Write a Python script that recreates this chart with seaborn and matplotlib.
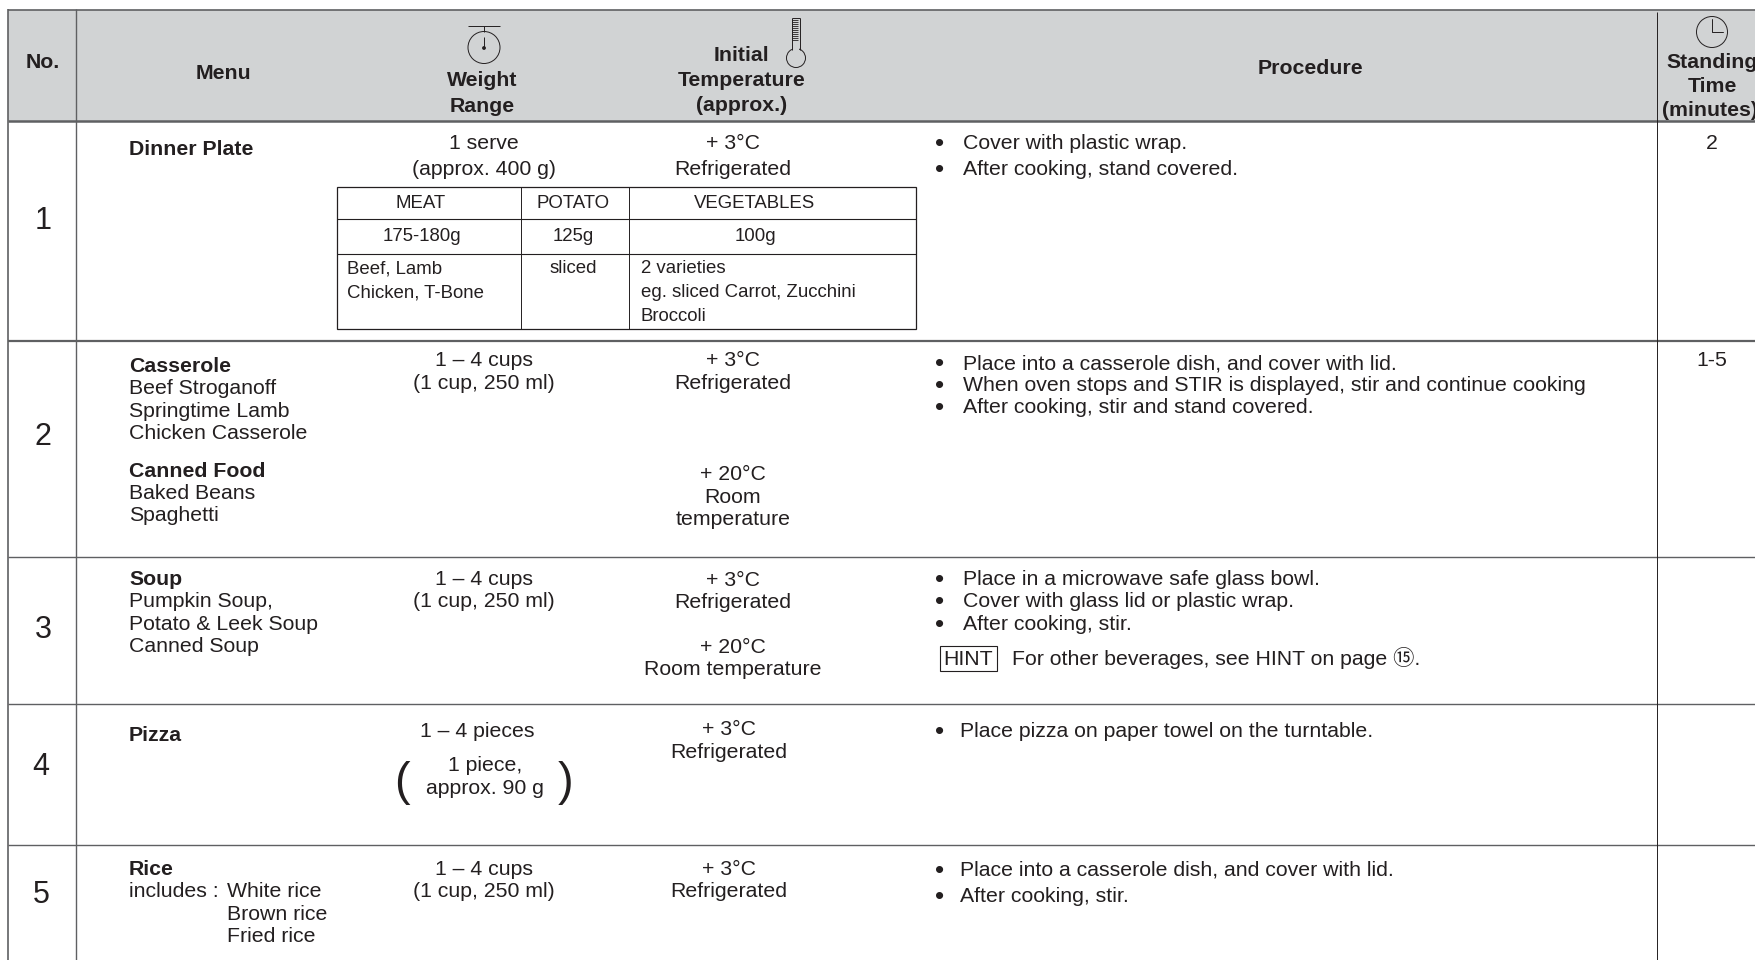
# Microwave cooking table, page from a manual: header band, five rows, nested Dinner Plate table.

import numpy as np
import matplotlib
matplotlib.use('Agg')
import matplotlib.pyplot as plt
from matplotlib.patches import Circle, Rectangle
import seaborn as sns

# ==================== DATA ====================
row_numbers = ['1', '2', '3', '4', '5']
standing_times = ['2', '1-5']
header_labels = ['No.', 'Menu', 'Weight', 'Range', 'Initial', 'Temperature', '(approx.)',
                 'Procedure', 'Standing', 'Time', '(minutes)']

menu_bold = ['Dinner Plate', 'Casserole', 'Canned Food', 'Soup', 'Pizza', 'Rice']
menu_plain = ['Beef Stroganoff', 'Springtime Lamb', 'Chicken Casserole', 'Baked Beans', 'Spaghetti',
              'Pumpkin Soup,', 'Potato & Leek Soup', 'Canned Soup', 'includes :',
              'White rice', 'Brown rice', 'Fried rice']

weight_lines = ['1 serve', '(approx. 400 g)', '1 – 4 cups', '(1 cup, 250 ml)', '1 – 4 cups',
                '(1 cup, 250 ml)', '1 – 4 pieces', '1 piece,', 'approx. 90 g', '1 – 4 cups',
                '(1 cup, 250 ml)']
temp_lines = ['+ 3°C', 'Refrigerated', '+ 3°C', 'Refrigerated', '+ 20°C', 'Room', 'temperature',
              '+ 3°C', 'Refrigerated', '+ 20°C', 'Room temperature', '+ 3°C', 'Refrigerated',
              '+ 3°C', 'Refrigerated']
procedure_lines = ['Cover with plastic wrap.', 'After cooking, stand covered.',
                   'Place into a casserole dish, and cover with lid.',
                   'When oven stops and STIR is displayed, stir and continue cooking',
                   'After cooking, stir and stand covered.',
                   'Place in a microwave safe glass bowl.', 'Cover with glass lid or plastic wrap.',
                   'After cooking, stir.', 'Place pizza on paper towel on the turntable.',
                   'Place into a casserole dish, and cover with lid.', 'After cooking, stir.']
hint_label = 'HINT'
hint_text = 'For other beverages, see HINT on page ⑮.'

inner_header = ['MEAT', 'POTATO', 'VEGETABLES']
inner_weights = ['175-180g', '125g', '100g']
inner_meat = ['Beef, Lamb', 'Chicken, T-Bone']
inner_potato = ['sliced']
inner_veg = ['2 varieties', 'eg. sliced Carrot, Zucchini', 'Broccoli']

# ==================== LAYOUT (pixels of the page) ====================
W, H = 1755, 960
INK = '#231f20'
RULE = '#5f6062'
BAND = '#d1d3d4'
FS = 15.35
FS_INNER = 13.45

number_y = [218, 434, 627, 764, 892]
number_x = [43, 43, 43, 41, 41]
menu_bold_y = [148, 365, 470, 578, 734, 868]
menu_plain_xy = [(129, 387), (129, 410), (129, 432), (129, 492), (129, 514), (129, 600), (129, 623),
                 (129, 645), (129, 890), (227, 890), (227, 913), (227, 935)]
weight_xy = [(484, 142), (484, 168), (484, 359), (484, 382), (484, 578), (484, 600), (477, 730),
             (485, 764), (485, 787), (484, 868), (484, 890)]
temp_xy = [(733, 142), (733, 168), (733, 359), (733, 382), (733, 473), (733, 496), (733, 518),
           (733, 579), (733, 601), (733, 646), (733, 668), (729, 728), (729, 751), (729, 868),
           (729, 890)]
procedure_xy = [(963, 142), (963, 168), (963, 362), (963, 384), (963, 406), (963, 578), (963, 600),
                (963, 623), (960, 730), (960, 869), (960, 895)]
header_xy = [(43, 61), (223, 72), (482, 79), (482, 105), (741, 54), (742, 79), (742, 104),
             (1310, 67), (1712, 61), (1712, 85), (1710, 109)]

# ==================== FIGURE ====================
sns.set_theme(style='white')
plt.rcParams['font.family'] = ['Liberation Sans', 'Noto Sans CJK SC', 'DejaVu Sans']

fig = plt.figure(figsize=(W / 100, H / 100), dpi=100, facecolor='white')

# Header band as a one-cell heatmap
band_ax = fig.add_axes([8 / W, 1 - 121 / H, (W - 8) / W, 111 / H])
sns.heatmap(np.ones((1, 1)), cmap=[BAND], cbar=False, ax=band_ax, xticklabels=False, yticklabels=False)

ax = fig.add_axes([0, 0, 1, 1])
ax.patch.set_alpha(0)
ax.set_xlim(0, W)
ax.set_ylim(H, 0)
ax.axis('off')
sns.despine(ax=ax, left=True, bottom=True)


def put(x, y, s, ha='left', weight='normal', size=FS, off=7):
    ax.text(x, y + off, s, ha=ha, va='baseline', fontsize=size, fontweight=weight, color=INK)


# ==================== RULES ====================
ax.hlines(10, 8, W, color=RULE, lw=1.2)
ax.hlines(121, 8, W, color=RULE, lw=1.8)
ax.hlines(341, 8, W, color=RULE, lw=1.6)
for y in [557, 704, 845]:
    ax.hlines(y, 8, W, color=RULE, lw=1.0)
ax.vlines(8, 9, H, color=RULE, lw=1.2)
ax.vlines(76.5, 9, H, color=RULE, lw=1.0)
ax.vlines(1657, 12, H, color=INK, lw=0.7)

# ==================== HEADER ====================
for (x, y), s in zip(header_xy, header_labels):
    put(x, y, s, ha='center', weight='bold')

# Scale icon
ax.hlines(26, 468, 500, color=INK, lw=0.7)
ax.vlines(484, 26, 32, color=INK, lw=0.7)
ax.add_patch(Circle((484, 47.5), 16, fill=False, ec=INK, lw=0.7))
ax.vlines(484, 37, 48, color=INK, lw=0.7)
ax.add_patch(Circle((484, 48), 1.2, color=INK))

# Thermometer icon
ax.vlines([792, 800], 18, 50, color=INK, lw=0.7)
ax.hlines(18, 792, 800, color=INK, lw=0.7)
ax.hlines(np.arange(20, 42, 2), 792, 798, color=INK, lw=0.6)
ax.add_patch(Circle((796, 58), 9.5, fill=False, ec=INK, lw=0.7))
ax.add_patch(Rectangle((792.6, 46), 6.8, 5, fc=BAND, ec='none', zorder=3))

# Clock icon
ax.add_patch(Circle((1712, 32), 15.5, fill=False, ec=INK, lw=0.7))
ax.plot([1712, 1712, 1723], [19, 32, 32], color=INK, lw=0.7)

# ==================== BODY ====================
for x, y, s in zip(number_x, number_y, row_numbers):
    put(x, y, s, ha='center', size=22, off=11)

for y, s in zip(menu_bold_y, menu_bold):
    put(129, y, s, weight='bold')
for (x, y), s in zip(menu_plain_xy, menu_plain):
    put(x, y, s)
for (x, y), s in zip(weight_xy, weight_lines):
    put(x, y, s, ha='center')
for (x, y), s in zip(temp_xy, temp_lines):
    put(x, y, s, ha='center')
for (x, y), s in zip(procedure_xy, procedure_lines):
    put(x, y, s)
    put(940, y, '•', ha='center', size=19, off=9)

for y, s in zip([142, 359], standing_times):
    put(1712, y, s, ha='center')

# Big brackets round the Pizza weight
put(402, 779, '(', ha='center', size=34, off=16)
put(566, 779, ')', ha='center', size=34, off=16)

# HINT box
ax.add_patch(Rectangle((940, 646), 57, 25, fill=False, ec=INK, lw=0.8))
put(968.5, 658, hint_label, ha='center')
put(1012, 658, hint_text)

# ==================== NESTED TABLE ====================
ax.add_patch(Rectangle((337.5, 187), 578.5, 142, fill=False, ec=INK, lw=0.9, zorder=3))
ax.hlines([219, 254], 337.5, 916, color=INK, lw=0.8)
ax.vlines([521, 628.6], 187, 329, color=INK, lw=0.7)
for x, s in zip([421, 573, 755], inner_header):
    put(x, 202, s, ha='center', size=FS_INNER, off=6)
for x, s in zip([422, 573, 755], inner_weights):
    put(x, 235, s, ha='center', size=FS_INNER, off=6)
for y, s in zip([267, 291], inner_meat):
    put(347, y, s, size=FS_INNER, off=6)
put(573, 267, inner_potato[0], ha='center', size=FS_INNER, off=6)
for y, s in zip([267, 291, 315], inner_veg):
    put(641, y, s, size=FS_INNER, off=6)

fig.savefig('out.png', dpi=100)
